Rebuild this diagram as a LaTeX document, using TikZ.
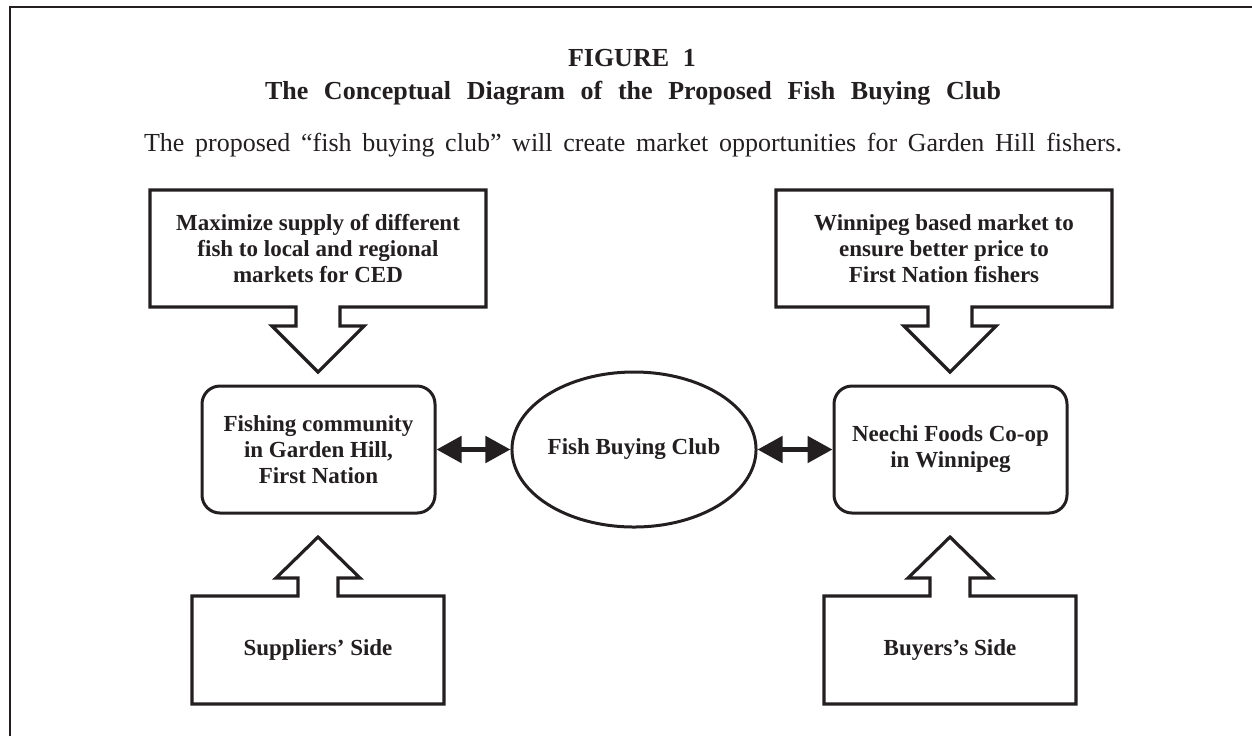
\documentclass[tikz,border=0pt]{standalone}
\usepackage{fontspec}
\setmainfont{Liberation Serif}
\usepackage{xcolor}
\usetikzlibrary{arrows.meta,calc,shapes.geometric}
\definecolor{ink}{RGB}{35,31,32}

\begin{document}
\begin{tikzpicture}[
  x=0.5pt, y=-0.5pt,
  every node/.style={text=ink, inner sep=0pt},
  headtext/.style={font=\fontsize{13}{16}\selectfont\bfseries, anchor=base},
  boxtext/.style={font=\fontsize{11.5}{13}\selectfont\bfseries, align=center},
  block/.style={draw=ink, line width=1.6pt},
  goal/.style={boxtext, minimum width=168pt, minimum height=58.5pt, outer sep=0pt},
  side/.style={boxtext, minimum width=126pt, minimum height=54pt, outer sep=0pt},
  party/.style={boxtext, draw=ink, line width=1.5pt, rounded corners=9pt,
    minimum width=116.5pt, minimum height=63.5pt},
  both/.style={draw=ink, line width=2.5pt, >={Triangle[length=12.5pt,width=13pt]}, <->},
]
  \useasboundingbox (0,0) rectangle (1252,736);
  \draw[ink, line width=1pt] (10,736) -- (10,7) -- (1252,7);

  \node (fignum) [headtext] at (632,66) {\makebox[64pt][s]{FIGURE 1}};
  \node (figtitle) [headtext] at (633,99)
    {\makebox[368pt][s]{The Conceptual Diagram of the Proposed Fish Buying Club}};
  \node (intro) [font=\fontsize{13}{16}\selectfont, anchor=base] at (633,151)
    {\makebox[489pt][s]{The proposed ``fish buying club'' will create market opportunities for Garden Hill fishers.}};

  \node (supply) [goal] at (318,248.5)
    {Maximize supply of different\\fish to local and regional\\markets for CED};
  \node (market) [goal] at (944,248.5)
    {Winnipeg based market to\\ensure better price to\\First Nation fishers};
  \node (fishers) [party] at (318.5,449.5)
    {Fishing community\\in Garden Hill,\\First Nation};
  \node (club) [boxtext, ellipse, draw=ink, line width=1.5pt,
    minimum width=116.5pt, minimum height=77.5pt] at (634,449.5) {Fish Buying Club};
  \node (neechi) [party] at (950.5,449.5) {Neechi Foods Co-op\\in Winnipeg};
  \node (suppliers) [side] at (318,650) {Suppliers' Side};
  \node (buyers) [side] at (950,650) {Buyers's Side};

  \draw[block] (supply.south west) |- (supply.north east)
    |- ($(supply.south)+(22,0)$) -- ++(0,19) -- ++(24,0) -- ++(-46,46)
    -- ++(-46,-46) -- ++(24,0) -- ++(0,-19) -- cycle;
  \draw[block] (market.south west) |- (market.north east)
    |- ($(market.south)+(28,0)$) -- ++(0,19) -- ++(24,0) -- ++(-46,46)
    -- ++(-46,-46) -- ++(24,0) -- ++(0,-19) -- cycle;
  \draw[block] (suppliers.north west) -- ($(suppliers.north)+(-20,0)$)
    -- ++(0,-18) -- ++(-22,0) -- ++(42,-41) -- ++(42,41) -- ++(-22,0)
    -- ++(0,18) -- (suppliers.north east) |- (suppliers.south west) -- cycle;
  \draw[block] (buyers.north west) -- ($(buyers.north)+(-20,0)$)
    -- ++(0,-18) -- ++(-22,0) -- ++(42,-41) -- ++(42,41) -- ++(-22,0)
    -- ++(0,18) -- (buyers.north east) |- (buyers.south west) -- cycle;

  \draw[both] (fishers.east) -- (club.west);
  \draw[both] (club.east) -- (neechi.west);
\end{tikzpicture}
\end{document}
